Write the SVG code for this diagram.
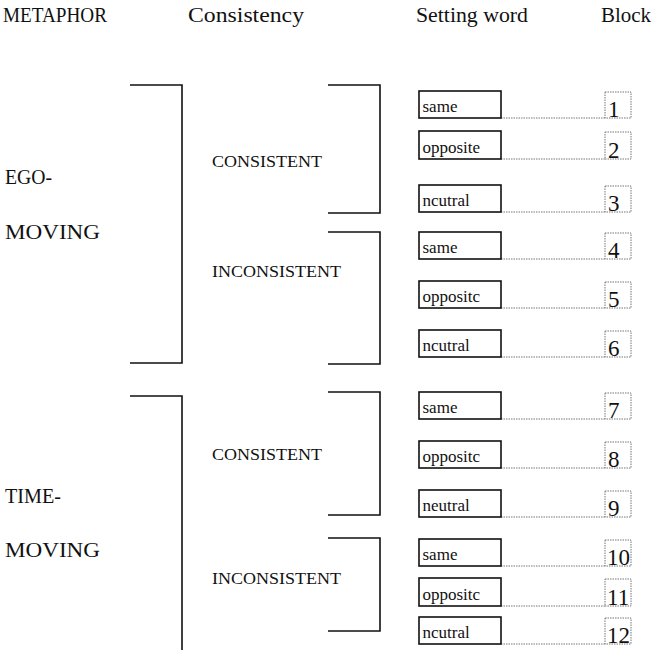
<svg xmlns="http://www.w3.org/2000/svg" width="654" height="650" viewBox="0 0 654 650">
<style>
text{font-family:"Liberation Serif","Times New Roman",serif;fill:#111}
.hd{font-size:20px}
.mt{font-size:20px}
.cs{font-size:17.5px}
.wd{font-size:17px}
.nm{font-size:23px}
.br{fill:none;stroke:#111;stroke-width:1.6}
.wb{fill:#fff;stroke:#111;stroke-width:1.6}
.bb{fill:none;stroke:#777;stroke-width:1;stroke-dasharray:1.5,1}
.dl{stroke:#777;stroke-width:1;stroke-dasharray:1.5,1}
</style>
<rect width="654" height="650" fill="#fff"/>
<g id="headers">
<text class="hd" x="3" y="22" textLength="104" lengthAdjust="spacingAndGlyphs">METAPHOR</text>
<text class="hd" x="188" y="22" textLength="116" lengthAdjust="spacingAndGlyphs">Consistency</text>
<text class="hd" x="416" y="22" textLength="112" lengthAdjust="spacingAndGlyphs">Setting word</text>
<text class="hd" x="601" y="22" textLength="50" lengthAdjust="spacingAndGlyphs">Block</text>
</g>
<g id="connectors">
<path class="br" d="M130,85 H182 V363 H130"/>
<path class="br" d="M130,396 H182 V650"/>
<path class="br" d="M328,85 H380 V213 H328"/>
<path class="br" d="M328,232 H380 V364 H328"/>
<path class="br" d="M328,392 H380 V515 H328"/>
<path class="br" d="M328,538 H380 V631 H328"/>
<line class="dl" x1="501" y1="118" x2="605" y2="118"/>
<line class="dl" x1="501" y1="159" x2="605" y2="159"/>
<line class="dl" x1="501" y1="212" x2="605" y2="212"/>
<line class="dl" x1="501" y1="259" x2="605" y2="259"/>
<line class="dl" x1="501" y1="308" x2="605" y2="308"/>
<line class="dl" x1="501" y1="357" x2="605" y2="357"/>
<line class="dl" x1="501" y1="419" x2="605" y2="419"/>
<line class="dl" x1="501" y1="468" x2="605" y2="468"/>
<line class="dl" x1="501" y1="517" x2="605" y2="517"/>
<line class="dl" x1="501" y1="566" x2="605" y2="566"/>
<line class="dl" x1="501" y1="606" x2="605" y2="606"/>
<line class="dl" x1="501" y1="644" x2="605" y2="644"/>
</g>
<g id="metaphor-ego">
<text class="mt" x="5" y="184" textLength="47" lengthAdjust="spacingAndGlyphs">EGO-</text>
<text class="mt" x="5" y="239" textLength="95" lengthAdjust="spacingAndGlyphs">MOVING</text>
</g>
<g id="metaphor-time">
<text class="mt" x="5" y="503" textLength="56" lengthAdjust="spacingAndGlyphs">TIME-</text>
<text class="mt" x="5" y="557" textLength="95" lengthAdjust="spacingAndGlyphs">MOVING</text>
</g>
<g id="cons-1"><text class="cs" x="212" y="167" textLength="110" lengthAdjust="spacingAndGlyphs">CONSISTENT</text></g>
<g id="incons-1"><text class="cs" x="212" y="277" textLength="129" lengthAdjust="spacingAndGlyphs">INCONSISTENT</text></g>
<g id="cons-2"><text class="cs" x="212" y="460" textLength="110" lengthAdjust="spacingAndGlyphs">CONSISTENT</text></g>
<g id="incons-2"><text class="cs" x="212" y="584" textLength="129" lengthAdjust="spacingAndGlyphs">INCONSISTENT</text></g>

<g id="word-1"><rect class="wb" x="419" y="91" width="82" height="27"/><text class="wd" x="422.5" y="112">same</text></g>
<g id="word-2"><rect class="wb" x="419" y="131" width="82" height="28"/><text class="wd" x="422.5" y="153">opposite</text></g>
<g id="word-3"><rect class="wb" x="419" y="185" width="82" height="27"/><text class="wd" x="422.5" y="206">ncutral</text></g>
<g id="word-4"><rect class="wb" x="419" y="232" width="82" height="27"/><text class="wd" x="422.5" y="253">same</text></g>
<g id="word-5"><rect class="wb" x="419" y="281" width="82" height="27"/><text class="wd" x="422.5" y="302">oppositc</text></g>
<g id="word-6"><rect class="wb" x="419" y="330" width="82" height="27"/><text class="wd" x="422.5" y="351">ncutral</text></g>
<g id="word-7"><rect class="wb" x="419" y="392" width="82" height="27"/><text class="wd" x="422.5" y="413">same</text></g>
<g id="word-8"><rect class="wb" x="419" y="441" width="82" height="27"/><text class="wd" x="422.5" y="462">oppositc</text></g>
<g id="word-9"><rect class="wb" x="419" y="490" width="82" height="27"/><text class="wd" x="422.5" y="511">neutral</text></g>
<g id="word-10"><rect class="wb" x="419" y="539" width="82" height="27"/><text class="wd" x="422.5" y="560">same</text></g>
<g id="word-11"><rect class="wb" x="419" y="578" width="82" height="28"/><text class="wd" x="422.5" y="600">oppositc</text></g>
<g id="word-12"><rect class="wb" x="419" y="617" width="82" height="27"/><text class="wd" x="422.5" y="638">ncutral</text></g>

<g id="block-1"><rect class="bb" x="605" y="92" width="26" height="26"/><text class="nm" x="608" y="116.5">1</text></g>
<g id="block-2"><rect class="bb" x="605" y="132" width="26" height="27"/><text class="nm" x="608" y="157.5">2</text></g>
<g id="block-3"><rect class="bb" x="605" y="186" width="26" height="26"/><text class="nm" x="608" y="210.5">3</text></g>
<g id="block-4"><rect class="bb" x="605" y="233" width="26" height="26"/><text class="nm" x="608" y="257.5">4</text></g>
<g id="block-5"><rect class="bb" x="605" y="282" width="26" height="26"/><text class="nm" x="608" y="306.5">5</text></g>
<g id="block-6"><rect class="bb" x="605" y="331" width="26" height="26"/><text class="nm" x="608" y="355.5">6</text></g>
<g id="block-7"><rect class="bb" x="605" y="393" width="26" height="26"/><text class="nm" x="608" y="417.5">7</text></g>
<g id="block-8"><rect class="bb" x="605" y="442" width="26" height="26"/><text class="nm" x="608" y="466.5">8</text></g>
<g id="block-9"><rect class="bb" x="605" y="491" width="26" height="26"/><text class="nm" x="608" y="515.5">9</text></g>
<g id="block-10"><rect class="bb" x="605" y="540" width="26" height="26"/><text class="nm" x="607" y="564.5">10</text></g>
<g id="block-11"><rect class="bb" x="605" y="579" width="26" height="27"/><text class="nm" x="607" y="604.5">11</text></g>
<g id="block-12"><rect class="bb" x="605" y="618" width="26" height="26"/><text class="nm" x="607" y="642.5">12</text></g>
</svg>
